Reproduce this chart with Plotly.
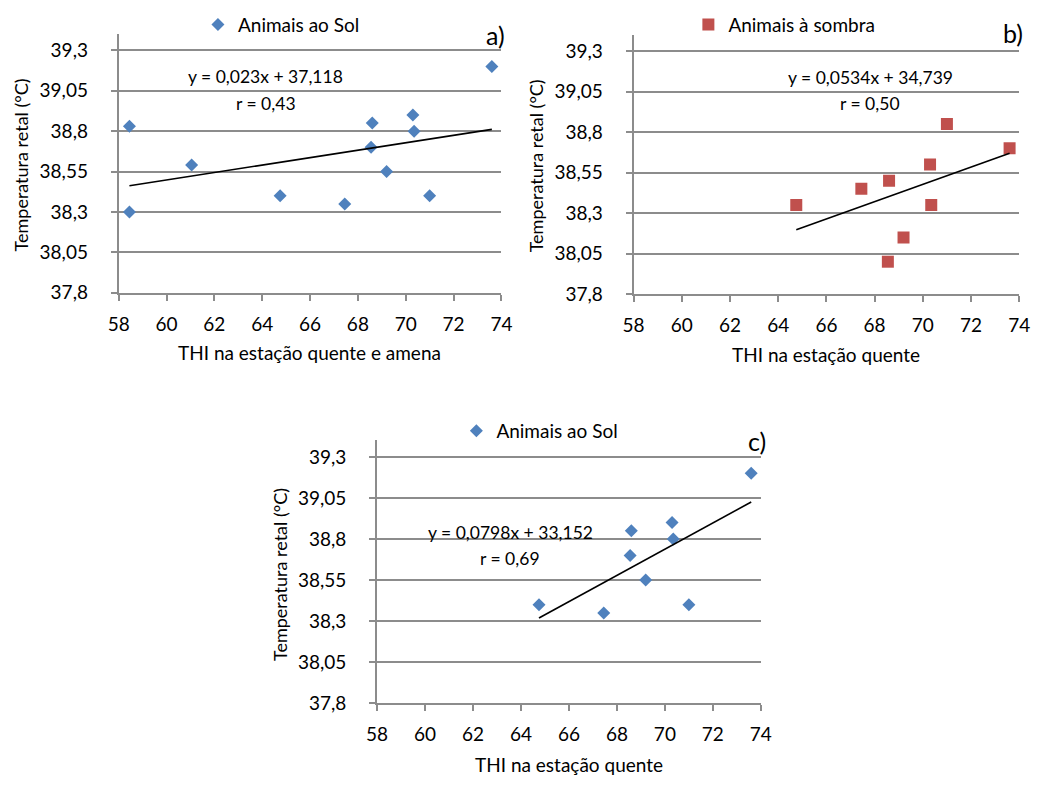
import plotly.graph_objects as go

# THI (x) and rectal temperature (y) for each group
THI_A = [58.45, 58.45, 61.05, 64.75, 67.45, 68.6, 68.55, 69.2, 70.3, 70.35, 71.0, 73.6]
TEMP_A = [38.83, 38.30, 38.59, 38.40, 38.35, 38.85, 38.70, 38.55, 38.90, 38.80, 38.40, 39.20]

THI_B = [64.75, 67.45, 68.6, 68.55, 69.2, 70.3, 70.35, 71.0, 73.6]
TEMP_B = [38.35, 38.45, 38.50, 38.00, 38.15, 38.60, 38.35, 38.85, 38.70]

THI_C = [64.75, 67.45, 68.6, 68.55, 69.2, 70.3, 70.35, 71.0, 73.6]
TEMP_C = [38.40, 38.35, 38.85, 38.70, 38.55, 38.90, 38.80, 38.40, 39.20]

# Linear regression coefficients and correlation for each panel
SLOPES = [0.023, 0.0534, 0.0798]
INTERCEPTS = [37.118, 34.739, 33.152]
R_VALUES = [0.43, 0.50, 0.69]

SERIES_NAMES = ["Animais ao Sol", "Animais à sombra", "Animais ao Sol"]
PANEL_TAGS = ["a)", "b)", "c)"]
X_TITLES = ["THI na estação quente e amena", "THI na estação quente", "THI na estação quente"]
Y_TITLE = "Temperatura retal (°C)"

X_TICKS = [58, 60, 62, 64, 66, 68, 70, 72, 74]

BLUE = "#4F81BD"
RED = "#C0504D"
GRID = "#8C8C8C"
FONT = "Lato"

W, H = 1041, 785


def comma(v):
    return str(v).replace(".", ",")


panels = [
    dict(x=THI_A, y=TEMP_A, color=BLUE, symbol="diamond", size=10,
         xdom=[110, 501], ytop=34.6, ybot=297),
    dict(x=THI_B, y=TEMP_B, color=RED, symbol="square", size=12,
         xdom=[636, 1030], ytop=35.3, ybot=298.3),
    dict(x=THI_C, y=TEMP_C, color=BLUE, symbol="diamond", size=10,
         xdom=[374, 766], ytop=446.7, ybot=713.3),
]

fig = go.Figure()
layout = dict(
    width=W, height=H, margin=dict(l=0, r=0, t=0, b=0),
    paper_bgcolor="white", plot_bgcolor="white",
    separators=",.", font=dict(family=FONT, size=18, color="#000000"),
    annotations=[],
)

legend_left = [191, 692, 455]
legend_y = [25, 25, 437]
tag_pos = [(495, 35), (1024, 33), (762, 447)]
eq_pos = [((260, 78), (261, 105)), ((878, 79), (878, 105)), ((510, 540), (510, 566))]
ytitle_pos = [(10, 167), (536, 168), (275, 583)]
xtitle_pos = [(305, 358), (833, 360), (570, 775)]

for i, p in enumerate(panels):
    n = "" if i == 0 else str(i + 1)
    xa, ya = "x" + n, "y" + n
    leg = "legend" + n

    fig.add_trace(go.Scatter(
        x=p["x"], y=p["y"], mode="markers", name=SERIES_NAMES[i],
        marker=dict(symbol=p["symbol"], size=p["size"], color=p["color"],
                    line=dict(width=0)),
        xaxis=xa, yaxis=ya, legend=leg, showlegend=True,
    ))

    x0, x1 = min(p["x"]), max(p["x"])
    fig.add_trace(go.Scatter(
        x=[x0, x1], y=[SLOPES[i] * x0 + INTERCEPTS[i], SLOPES[i] * x1 + INTERCEPTS[i]],
        mode="lines", line=dict(color="black", width=1.6),
        xaxis=xa, yaxis=ya, showlegend=False, hoverinfo="skip",
    ))

    layout["xaxis" + n] = dict(
        domain=[p["xdom"][0] / W, p["xdom"][1] / W], anchor=ya,
        range=[58, 74], tickvals=X_TICKS, ticks="outside", ticklen=6,
        tickcolor=GRID, tickwidth=1.5, showgrid=False, zeroline=False,
        showline=True, linecolor=GRID, linewidth=1.8,
        tickfont=dict(size=19), ticklabelstandoff=7,
    )
    layout["yaxis" + n] = dict(
        domain=[1 - p["ybot"] / H, 1 - p["ytop"] / H], anchor=xa,
        range=[37.8, 39.4], tick0=37.8, dtick=0.25, ticks="outside", ticklen=6,
        tickcolor=GRID, tickwidth=1.5, showgrid=True, gridcolor=GRID, gridwidth=1.8,
        zeroline=False, showline=True, linecolor=GRID, linewidth=1.8,
        tickfont=dict(size=19), ticklabelstandoff=19,
    )

    layout[leg] = dict(
        x=legend_left[i] / W, y=1 - legend_y[i] / H, xanchor="left", yanchor="middle",
        orientation="h", bgcolor="rgba(0,0,0,0)", borderwidth=0,
        font=dict(size=19), itemwidth=30, tracegroupgap=0,
    )

    tx, ty = tag_pos[i]
    layout["annotations"].append(dict(
        text=PANEL_TAGS[i], x=tx / W, y=1 - ty / H, xref="paper", yref="paper",
        showarrow=False, font=dict(size=25), xanchor="center", yanchor="middle",
    ))

    (ex, ey), (rx, ry) = eq_pos[i]
    layout["annotations"].append(dict(
        text=f"y = {comma(SLOPES[i])}x + {comma(INTERCEPTS[i])}",
        x=ex / W, y=1 - ey / H, xref="paper", yref="paper", showarrow=False,
        font=dict(size=17.5), xanchor="center", yanchor="middle",
    ))
    layout["annotations"].append(dict(
        text=f"r = {R_VALUES[i]:.2f}".replace(".", ","),
        x=rx / W, y=1 - ry / H, xref="paper", yref="paper", showarrow=False,
        font=dict(size=17.5), xanchor="center", yanchor="middle",
    ))

    yx, yy = ytitle_pos[i]
    layout["annotations"].append(dict(
        text=Y_TITLE, x=yx / W, y=1 - yy / H, xref="paper", yref="paper",
        showarrow=False, textangle=-90, font=dict(size=18),
        xanchor="center", yanchor="middle",
    ))

    gx, gy = xtitle_pos[i]
    layout["annotations"].append(dict(
        text=X_TITLES[i], x=gx / W, y=1 - gy / H, xref="paper", yref="paper",
        showarrow=False, font=dict(size=19), xanchor="center", yanchor="middle",
    ))

fig.update_layout(**layout)
fig.write_html("out.html")
